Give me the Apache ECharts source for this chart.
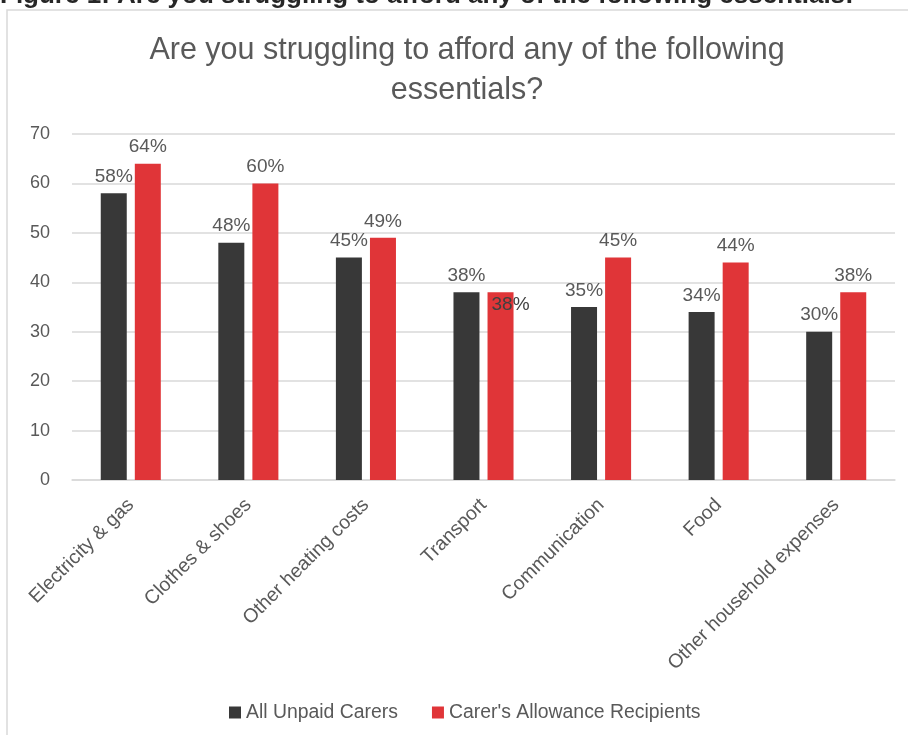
<!DOCTYPE html>
<html>
<head>
<meta charset="utf-8">
<script src="https://cdn.jsdelivr.net/npm/echarts@6/dist/echarts.min.js"></script>
<style>
  html, body { margin: 0; padding: 0; background: #fff; }
  #chart { width: 908px; height: 735px; }
</style>
</head>
<body>
<div id="chart"></div>
<script>
const categories = ['Electricity & gas', 'Clothes & shoes', 'Other heating costs', 'Transport', 'Communication', 'Food', 'Other household expenses'];
const allUnpaidCarers = [58, 48, 45, 38, 35, 34, 30];
const allowanceRecipients = [64, 60, 49, 38, 45, 44, 38];
const seriesNames = ['All Unpaid Carers', "Carer's Allowance Recipients"];

const textColor = '#595959';
const font = 'Liberation Sans, Arial, sans-serif';

const chart = echarts.init(document.getElementById('chart'));

const barLabel = {
  show: true,
  position: 'top',
  distance: 7,
  formatter: p => p.value + '%',
  color: textColor,
  fontSize: 19,
  fontFamily: font
};

// in the original the red Transport label sits just inside the bar top
const redData = allowanceRecipients.map((v, i) => i === 3
  ? { value: v, label: { position: 'insideTop', distance: 3, offset: [10, 0], color: '#404040' } }
  : v);

chart.setOption({
  animation: false,
  graphic: [
    {
      type: 'rect',
      shape: { x: 7, y: 10, width: 1000, height: 1000 },
      style: { fill: 'none', stroke: '#d9d9d9', lineWidth: 1.5 },
      z: -1
    },
    {
      type: 'text',
      left: 0,
      top: -17,
      style: {
        text: 'Figure 1: Are you struggling to afford any of the following essentials:',
        fontSize: 26,
        fontWeight: 'bold',
        fill: '#262626',
        fontFamily: font
      }
    }
  ],
  title: {
    text: 'Are you struggling to afford any of the following\nessentials?',
    left: 462,
    textAlign: 'center',
    top: 26,
    textStyle: {
      color: textColor,
      fontSize: 30.5,
      fontWeight: 'normal',
      lineHeight: 40,
      fontFamily: font
    }
  },
  legend: {
    bottom: 8,
    left: 224,
    itemWidth: 12,
    itemHeight: 12,
    itemGap: 34,
    icon: 'rect',
    textStyle: { color: textColor, fontSize: 19.4, fontFamily: font },
    data: seriesNames
  },
  grid: { left: 72, right: 13, top: 134, bottom: 255, containLabel: false },
  xAxis: {
    type: 'category',
    data: categories,
    axisTick: { show: false },
    axisLine: { lineStyle: { color: '#d9d9d9', width: 1.5 } },
    axisLabel: {
      rotate: 45,
      interval: 0,
      margin: 22,
      color: textColor,
      fontSize: 19.5,
      fontFamily: font
    }
  },
  yAxis: {
    type: 'value',
    min: 0,
    max: 70,
    interval: 10,
    axisLine: { show: false },
    axisTick: { show: false },
    splitLine: { lineStyle: { color: '#d9d9d9', width: 1.5 } },
    axisLabel: { color: textColor, fontSize: 18, margin: 22, fontFamily: font }
  },
  series: [
    {
      name: seriesNames[0],
      type: 'bar',
      data: allUnpaidCarers,
      barWidth: 26,
      barGap: '31%',
      itemStyle: { color: '#383838' },
      label: barLabel
    },
    {
      name: seriesNames[1],
      type: 'bar',
      data: redData,
      barWidth: 26,
      itemStyle: { color: '#e03538' },
      label: barLabel
    }
  ]
});

window.addEventListener('resize', () => chart.resize());
</script>
</body>
</html>
